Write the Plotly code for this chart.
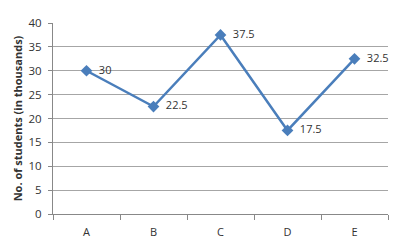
import plotly.graph_objects as go

categories = ["A", "B", "C", "D", "E"]
values = [30, 22.5, 37.5, 17.5, 32.5]
value_labels = ["30", "22.5", "37.5", "17.5", "32.5"]
y_ticks = [0, 5, 10, 15, 20, 25, 30, 35, 40]

fig = go.Figure()
fig.add_trace(go.Scatter(
    x=categories, y=values, mode="lines+markers+text",
    text=["  " + t for t in value_labels], textposition="middle right",
    textfont=dict(size=11, color="#333333", family="Open Sans"),
    line=dict(color="#4a7ebb", width=2.5),
    marker=dict(symbol="diamond", size=9, color="#4a7ebb"),
    cliponaxis=False,
))
fig.update_layout(
    width=406, height=250,
    margin=dict(l=53, r=18, t=23, b=36),
    paper_bgcolor="white", plot_bgcolor="white",
    showlegend=False,
    font=dict(family="Open Sans", size=11, color="#333333"),
    xaxis=dict(type="category", range=[-0.5, 4.5], showline=True, linecolor="#888888",
               ticks="outside", tickson="boundaries", ticklen=5, tickcolor="#888888",
               showgrid=False, tickfont=dict(size=11), ticklabelstandoff=8),
    yaxis=dict(range=[0, 40], tickvals=y_ticks, showline=True, linecolor="#888888",
               ticks="outside", ticklen=4, tickcolor="#888888",
               gridcolor="#a6a6a6", gridwidth=1, zeroline=False,
               tickfont=dict(size=11.5), ticklabelstandoff=4,
               title=dict(text="<b>No. of students (in thousands)</b>", font=dict(size=11), standoff=3)),
)
fig.write_html("out.html")
